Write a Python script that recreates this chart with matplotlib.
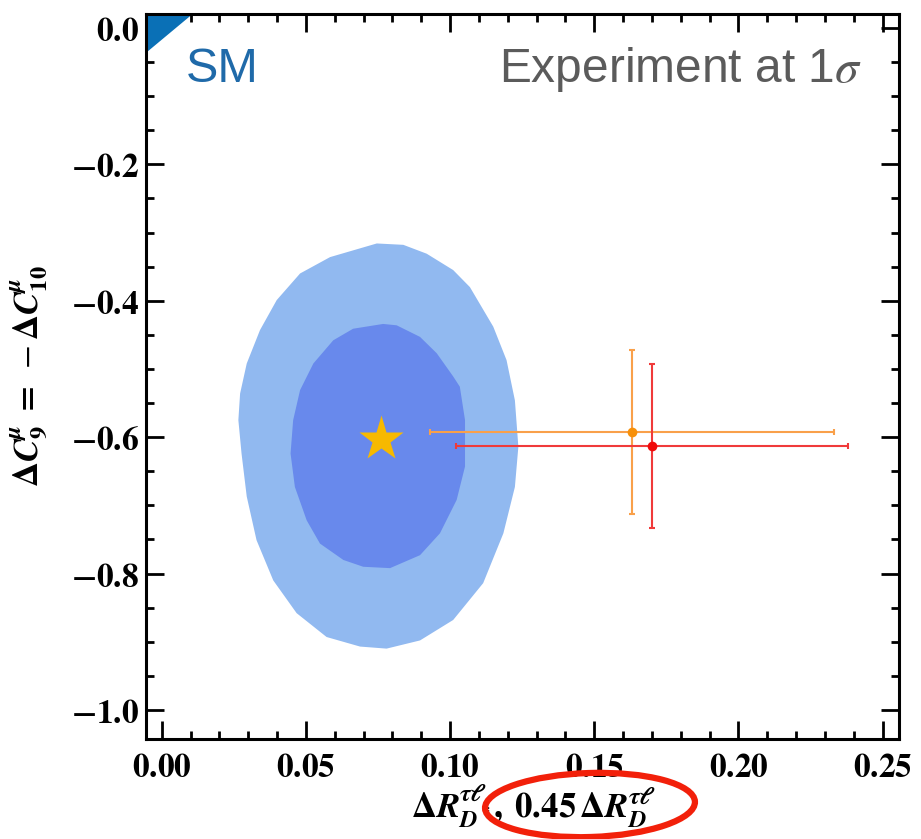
import matplotlib
matplotlib.use('Agg')
import matplotlib.pyplot as plt
from matplotlib.ticker import MultipleLocator, FuncFormatter
from matplotlib.patches import Polygon, Ellipse

plt.rcParams['mathtext.fontset'] = 'stix'

# allowed regions (1 and 2 sigma)
outer_x = [0.0746, 0.0584, 0.0480, 0.0399, 0.0341, 0.0295, 0.0272, 0.0266, 0.0277,
           0.0295, 0.0329, 0.0387, 0.0468, 0.0572, 0.0688, 0.0780, 0.0896, 0.1011,
           0.1115, 0.1185, 0.1225, 0.1237, 0.1225, 0.1196, 0.1150, 0.1069, 0.1011,
           0.0919, 0.0838]
outer_y = [-0.316, -0.336, -0.360, -0.399, -0.443, -0.492, -0.536, -0.575, -0.624,
           -0.687, -0.751, -0.810, -0.858, -0.893, -0.907, -0.910, -0.898, -0.868,
           -0.814, -0.741, -0.673, -0.614, -0.546, -0.487, -0.438, -0.380, -0.355,
           -0.331, -0.318]
inner_x = [0.0768, 0.0664, 0.0595, 0.0526, 0.0480, 0.0456, 0.0447, 0.0462, 0.0503,
           0.0549, 0.0630, 0.0699, 0.0792, 0.0896, 0.0965, 0.1023, 0.1052, 0.1052,
           0.1034, 0.1011, 0.0954, 0.0896, 0.0815]
inner_y = [-0.434, -0.441, -0.458, -0.492, -0.531, -0.575, -0.624, -0.673, -0.722,
           -0.756, -0.780, -0.790, -0.792, -0.773, -0.741, -0.692, -0.643, -0.575,
           -0.526, -0.511, -0.477, -0.453, -0.436]

# SM corner region
sm_x = [-0.0060, 0.0109, -0.0060]
sm_y = [0.0210, 0.0210, -0.0385]

# best fit point
star_x, star_y = 0.076, -0.602

# experimental points
exp_x = [0.163, 0.170]
exp_y = [-0.592, -0.613]
exp_xerr = [0.070, 0.068]
exp_yerr = [0.120, 0.120]
exp_line_colors = ['#f9a04a', '#f03a3a']
exp_dot_colors = ['#f7900a', '#f00a0a']

fig = plt.figure(figsize=(9.21, 8.39), dpi=100)
ax = fig.add_axes([0.1585, 0.1192, 0.8176, 0.8641])

ax.add_patch(Polygon(list(zip(outer_x, outer_y)), closed=True, fc='#91b9f0', ec='none', zorder=1))
ax.add_patch(Polygon(list(zip(inner_x, inner_y)), closed=True, fc='#6889ec', ec='none', zorder=2))
ax.add_patch(Polygon(list(zip(sm_x, sm_y)), closed=True, fc='#0a70b6', ec='none', zorder=2))

for i in range(len(exp_x)):
    ax.errorbar(exp_x[i], exp_y[i], xerr=exp_xerr[i], yerr=exp_yerr[i], fmt='none',
                ecolor=exp_line_colors[i], elinewidth=1.5, capsize=2.5, capthick=1.5, zorder=3)
    ax.plot(exp_x[i], exp_y[i], 'o', color=exp_dot_colors[i], ms=7, mec='none', zorder=4)

ax.plot(star_x, star_y, '*', color='#f7b900', ms=34, mec='none', zorder=5)

ax.set_xlim(-0.00544, 0.2557)
ax.set_ylim(-1.0425, 0.0204)

ax.xaxis.set_major_locator(MultipleLocator(0.05))
ax.xaxis.set_minor_locator(MultipleLocator(0.01))
ax.yaxis.set_major_locator(MultipleLocator(0.2))
ax.yaxis.set_minor_locator(MultipleLocator(0.05))

ax.xaxis.set_major_formatter(FuncFormatter(lambda v, p: r'$\mathbf{%.2f}$' % v))
ax.yaxis.set_major_formatter(FuncFormatter(lambda v, p: r'$\mathbf{%.1f}$' % (v + 0.0)))

ax.tick_params(which='both', direction='in', top=True, right=True, labelsize=24, width=2)
ax.tick_params(which='major', length=13)
ax.tick_params(axis='y', which='major', pad=5)
ax.tick_params(axis='x', which='major', pad=9)
ax.tick_params(which='minor', length=6)
for s in ax.spines.values():
    s.set_linewidth(2.2)

ax.set_xlabel(r'$\mathbf{\Delta}\mathbfit{R}^{\mathbfit{\tau\ell}}_{\mathbfit{D^*}}\mathbf{,\;0.45}\,\mathbf{\Delta}\mathbfit{R}^{\mathbfit{\tau\ell}}_{\mathbfit{D}}$',
              fontsize=25)
ax.xaxis.set_label_coords(0.514, -0.061)
ax.set_ylabel(r'$\mathbf{\Delta}\mathbfit{C}^{\mathbfit{\mu}}_{\mathbf{9}}\;\mathbf{=}\;-\mathbf{\Delta}\mathbfit{C}^{\mathbfit{\mu}}_{\mathbf{10}}$',
              fontsize=25)
ax.yaxis.set_label_coords(-0.127, 0.5)

ax.text(0.053, 0.906, 'SM', transform=ax.transAxes, fontsize=35,
        family='Liberation Sans', color='#1f6aa9', va='baseline')
ax.text(0.951, 0.906, r'Experiment at 1$\sigma$', transform=ax.transAxes, fontsize=34.5,
        family='Liberation Sans', color='#5b5b5b', va='baseline', ha='right')

# red ellipse drawn around part of the x label
fig.patches.append(Ellipse((590 / 921, 1 - 805 / 839), 210 / 921, 64 / 839, angle=2,
                           transform=fig.transFigure, fill=False, ec='#f2200a', lw=4.5))

fig.savefig('out.png', dpi=100)
